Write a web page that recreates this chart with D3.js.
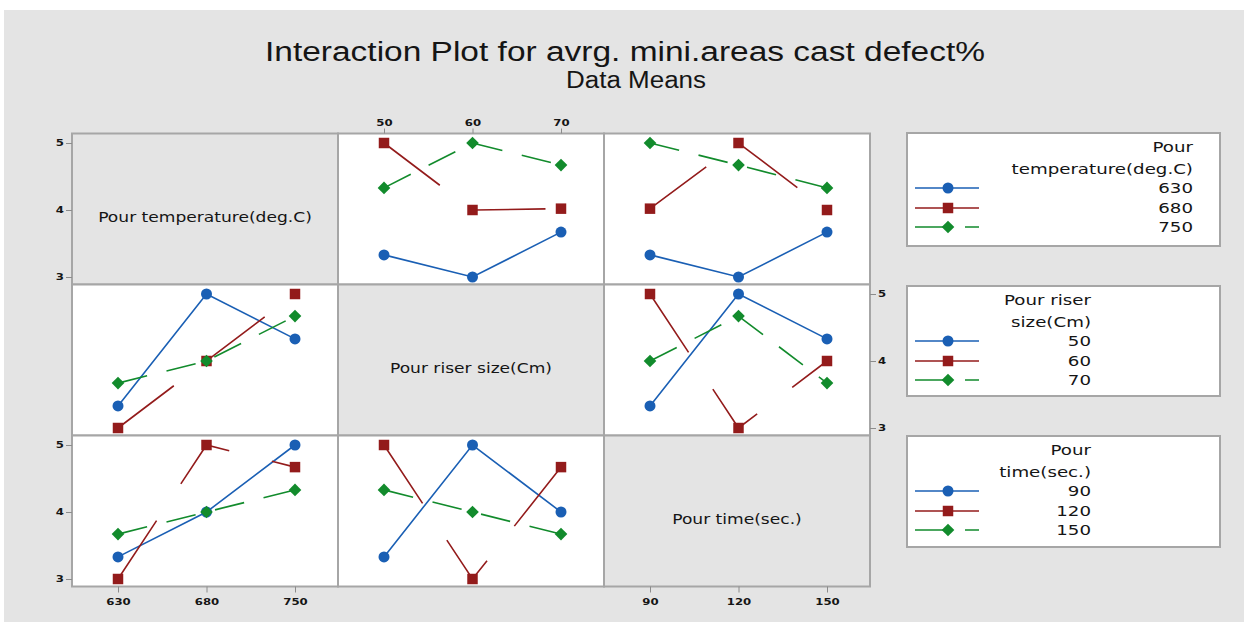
<!DOCTYPE html>
<html lang="en">
<head>
<meta charset="UTF-8">
<title>Interaction Plot</title>
<script src="https://cdn.jsdelivr.net/npm/d3@7/dist/d3.min.js"></script>
<style>
    body { margin: 0; background: #fff; }
    svg text { font-family: "DejaVu Sans", sans-serif; fill: #151515; }
    .axis path { display: none; }
    .axis line { stroke: #8c8c8c; }
    .axis text { font-size: 9px; font-weight: bold; font-family: "DejaVu Sans", sans-serif; }
</style>
</head>
<body>
<script>
    // factors and their levels
    const factorNames = ["Pour temperature(deg.C)", "Pour riser size(Cm)", "Pour time(sec.)"];
    const legendTitles = [["Pour", "temperature(deg.C)"], ["Pour riser", "size(Cm)"], ["Pour", "time(sec.)"]];
    const tempLevels = ["630", "680", "750"];
    const riserLevels = ["50", "60", "70"];
    const timeLevels = ["90", "120", "150"];
    const yTicks = [3, 4, 5];

    // means: one row per level of the line factor, one value per level of the x factor
    const tempByRiser = [[3.33, 3.00, 3.67], [5.00, 4.00, 4.02], [4.33, 5.00, 4.67]];
    const tempByTime  = [[3.33, 3.00, 3.67], [4.02, 5.00, 4.00], [5.00, 4.67, 4.33]];
    const riserByTemp = [[3.33, 5.00, 4.33], [3.00, 4.00, 5.00], [3.67, 4.00, 4.67]];
    const riserByTime = [[3.33, 5.00, 4.33], [5.00, 3.00, 4.00], [4.00, 4.67, 3.67]];
    const timeByTemp  = [[3.33, 4.00, 5.00], [3.00, 5.00, 4.67], [3.67, 4.00, 4.33]];
    const timeByRiser = [[3.33, 5.00, 4.00], [5.00, 3.00, 4.67], [4.33, 4.00, 3.67]];

    const levels = [tempLevels, riserLevels, timeLevels];
    const cells = [
        {row: 0, col: 1, values: tempByRiser},
        {row: 0, col: 2, values: tempByTime},
        {row: 1, col: 0, values: riserByTemp},
        {row: 1, col: 2, values: riserByTime},
        {row: 2, col: 0, values: timeByTemp},
        {row: 2, col: 1, values: timeByRiser}
    ];

    const colors = ["#1a5fb4", "#931b1b", "#128b2c"];
    const dashes = [null, "70,44", "30,20"];
    const symbols = [
        d3.symbol(d3.symbolCircle, 95)(),
        d3.symbol(d3.symbolSquare, 110)(),
        d3.symbol(d3.symbolSquare, 80)()
    ];
    const symRotate = [0, 0, 45];

    const w = 1244, h = 629;
    const panelW = 266, panelH = 151;
    const left0 = 72, top0 = 133.5;

    const svg = d3.select('body').append('svg')
        .attr('width', w)
        .attr('height', h);

    // stretch text horizontally (the original is rendered wide)
    function stretch(sel, k) {
        sel.each(function () {
            const len = this.getComputedTextLength();
            d3.select(this).attr('textLength', len * k).attr('lengthAdjust', 'spacingAndGlyphs');
        });
    }

    svg.append('rect')
        .attr('x', 4).attr('y', 10)
        .attr('width', w - 4).attr('height', 612)
        .attr('fill', '#e4e4e4');

    // titles
    svg.append('text')
        .attr('x', 625).attr('y', 61)
        .attr('text-anchor', 'middle')
        .style('font-family', '"Liberation Sans", sans-serif')
        .style('font-size', '27px')
        .attr('textLength', 720).attr('lengthAdjust', 'spacingAndGlyphs')
        .text('Interaction Plot for avrg. mini.areas cast defect%');
    svg.append('text')
        .attr('x', 636).attr('y', 88)
        .attr('text-anchor', 'middle')
        .style('font-family', '"Liberation Sans", sans-serif')
        .style('font-size', '23px')
        .attr('textLength', 140).attr('lengthAdjust', 'spacingAndGlyphs')
        .text('Data Means');

    const xScales = levels.map((lv, c) => d3.scalePoint()
        .domain(lv)
        .range([left0 + c * panelW + 46, left0 + c * panelW + 223]));
    const yScales = [0, 1, 2].map(r => d3.scaleLinear()
        .domain([3, 5])
        .range([top0 + r * panelH + 143.5, top0 + r * panelH + 9.5]));

    // panels
    for (let r = 0; r < 3; r++) {
        for (let c = 0; c < 3; c++) {
            svg.append('rect')
                .attr('x', left0 + c * panelW).attr('y', top0 + r * panelH)
                .attr('width', panelW).attr('height', panelH)
                .attr('fill', r === c ? '#e4e4e4' : '#fff')
                .attr('stroke', '#a6a6a6')
                .attr('stroke-width', 2);
        }
        const lab = svg.append('text')
            .attr('x', left0 + r * panelW + panelW / 2)
            .attr('y', top0 + r * panelH + panelH / 2 + 8)
            .attr('text-anchor', 'middle')
            .attr('dy', '0.35em')
            .style('font-size', '14px')
            .text(factorNames[r]);
        stretch(lab, 1.22);
    }

    // axes
    function drawAxis(axis, tx, ty) {
        const g = svg.append('g')
            .attr('class', 'axis')
            .attr('transform', 'translate(' + tx + ',' + ty + ')')
            .call(axis);
        stretch(g.selectAll('text'), 1.3);
    }
    const fmt = d3.format('d');
    drawAxis(d3.axisLeft(yScales[0]).tickValues(yTicks).tickFormat(fmt).tickSize(6).tickPadding(2), left0, 0);
    drawAxis(d3.axisLeft(yScales[2]).tickValues(yTicks).tickFormat(fmt).tickSize(6).tickPadding(2), left0, 0);
    drawAxis(d3.axisRight(yScales[1]).tickValues(yTicks).tickFormat(fmt).tickSize(6).tickPadding(2), left0 + 3 * panelW, 0);
    drawAxis(d3.axisBottom(xScales[0]).tickSize(6).tickPadding(6), 0, top0 + 3 * panelH);
    drawAxis(d3.axisTop(xScales[1]).tickSize(5).tickPadding(3), 0, top0);
    drawAxis(d3.axisBottom(xScales[2]).tickSize(6).tickPadding(6), 0, top0 + 3 * panelH);

    // interaction lines
    cells.forEach(cell => {
        const xs = xScales[cell.col], ys = yScales[cell.row];
        const xl = levels[cell.col];
        const g = svg.append('g');
        cell.values.forEach((vals, i) => {
            const pts = vals.map((v, j) => [xs(xl[j]), ys(v)]);
            g.append('path')
                .attr('d', d3.line()(pts))
                .attr('fill', 'none')
                .attr('stroke', colors[i])
                .attr('stroke-width', 1.6)
                .attr('stroke-dasharray', dashes[i]);
            g.selectAll(null)
                .data(pts)
                .enter()
                .append('path')
                .attr('d', symbols[i])
                .attr('transform', d => 'translate(' + d[0] + ',' + d[1] + ') rotate(' + symRotate[i] + ')')
                .attr('fill', colors[i]);
        });
    });

    // legends
    const legBoxes = [[133, 246], [286, 396], [436, 547]];
    const legTextX = [1193, 1091, 1091];
    const legOffsets = [14, 36, 55, 75, 94];
    legBoxes.forEach((b, k) => {
        const g = svg.append('g');
        g.append('rect')
            .attr('x', 907).attr('y', b[0])
            .attr('width', 313).attr('height', b[1] - b[0])
            .attr('fill', '#fff')
            .attr('stroke', '#a6a6a6')
            .attr('stroke-width', 2);
        const lines = legendTitles[k].concat(levels[k]);
        const t = g.selectAll('text')
            .data(lines)
            .enter()
            .append('text')
            .attr('x', legTextX[k])
            .attr('y', (d, i) => b[0] + legOffsets[i])
            .attr('dy', '0.35em')
            .attr('text-anchor', 'end')
            .style('font-size', '14px')
            .text(d => d);
        stretch(t, 1.3);
        levels[k].forEach((lv, i) => {
            const y = b[0] + legOffsets[i + 2];
            g.append('path')
                .attr('d', d3.line()([[915, y], [979, y]]))
                .attr('stroke', colors[i])
                .attr('stroke-width', 1.6)
                .attr('stroke-dasharray', dashes[i]);
            g.append('path')
                .attr('d', symbols[i])
                .attr('transform', 'translate(948,' + y + ') rotate(' + symRotate[i] + ')')
                .attr('fill', colors[i]);
        });
    });
</script>
</body>
</html>
